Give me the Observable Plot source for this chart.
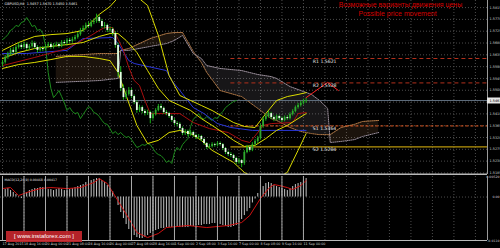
<!DOCTYPE html>
<html><head><meta charset="utf-8">
<script src="https://cdn.jsdelivr.net/npm/d3@7"></script>
<script src="https://cdn.jsdelivr.net/npm/@observablehq/plot@0.6"></script>
<style>
html,body{margin:0;padding:0;background:#000;}
#wrap{position:relative;width:500px;height:248px;overflow:hidden;background:#000;}
#wrap svg{position:absolute;left:0;display:block;}
#wm{position:absolute;left:6px;top:231px;width:76px;height:11px;background:rgba(196,38,44,0.92);color:#fff;font:6px "Liberation Sans",sans-serif;line-height:11px;text-align:center;white-space:nowrap;}
</style></head><body><div id="wrap"><div id="wm">[ www.instaforex.com ]</div></div>
<script>
// ---------- data ----------
const symbolLabel = "GBPUSD,H4  1.5457 1.5470 1.5450 1.5461";
const titleRu = "Возможные варианты движения цены";
const titleEn = "Possible price movement";
const firstOpen = 1.5598;
const closes = [1.5606,1.5625,1.5636,1.5652,1.5644,1.5663,1.5671,1.5663,1.5674,1.5659,
 1.5667,1.5678,1.5663,1.5652,1.5659,1.5655,1.5667,1.5674,1.5663,1.5671,
 1.5674,1.5667,1.5682,1.5678,1.5690,1.5686,1.5693,1.5701,1.5712,1.5728,
 1.5735,1.5747,1.5743,1.5758,1.5762,1.5777,1.5762,1.5743,1.5747,1.5728,
 1.5732,1.5716,1.5671,1.5568,1.5507,1.5472,1.5484,1.5499,1.5476,1.5453,
 1.5423,1.5434,1.5419,1.5411,1.5415,1.5392,1.5408,1.5423,1.5438,1.5431,
 1.5415,1.5411,1.5400,1.5385,1.5373,1.5370,1.5354,1.5335,1.5343,1.5331,
 1.5339,1.5328,1.5320,1.5324,1.5312,1.5297,1.5282,1.5286,1.5293,1.5290,
 1.5297,1.5293,1.5278,1.5263,1.5255,1.5251,1.5240,1.5225,1.5232,1.5221,
 1.5263,1.5282,1.5271,1.5293,1.5305,1.5316,1.5362,1.5389,1.5400,1.5411,
 1.5396,1.5389,1.5400,1.5392,1.5385,1.5396,1.5392,1.5408,1.5419,1.5434,
 1.5442,1.5450,1.5457,1.5461];
const highs = [1.5614,1.5633,1.5645,1.5660,1.5663,1.5670,1.5680,1.5678,1.5684,1.5680,
 1.5674,1.5688,1.5684,1.5670,1.5666,1.5667,1.5674,1.5682,1.5680,1.5678,
 1.5683,1.5681,1.5689,1.5690,1.5697,1.5698,1.5702,1.5709,1.5720,1.5736,
 1.5745,1.5756,1.5760,1.5766,1.5772,1.5790,1.5785,1.5770,1.5758,1.5752,
 1.5742,1.5738,1.5724,1.5680,1.5590,1.5520,1.5496,1.5510,1.5506,1.5482,
 1.5460,1.5443,1.5440,1.5426,1.5424,1.5420,1.5414,1.5430,1.5446,1.5447,
 1.5436,1.5422,1.5416,1.5405,1.5392,1.5380,1.5376,1.5360,1.5350,1.5348,
 1.5346,1.5344,1.5333,1.5331,1.5328,1.5316,1.5301,1.5294,1.5300,1.5298,
 1.5304,1.5303,1.5297,1.5282,1.5268,1.5262,1.5256,1.5245,1.5240,1.5236,
 1.5270,1.5290,1.5288,1.5300,1.5312,1.5324,1.5370,1.5398,1.5410,1.5420,
 1.5416,1.5402,1.5406,1.5405,1.5398,1.5402,1.5403,1.5414,1.5426,1.5440,
 1.5450,1.5458,1.5466,1.5470];
const lows = [1.5590,1.5600,1.5618,1.5630,1.5637,1.5640,1.5657,1.5655,1.5658,1.5650,
 1.5652,1.5661,1.5655,1.5641,1.5645,1.5647,1.5650,1.5661,1.5656,1.5657,
 1.5664,1.5660,1.5662,1.5670,1.5672,1.5679,1.5680,1.5687,1.5695,1.5706,
 1.5720,1.5729,1.5735,1.5738,1.5750,1.5755,1.5755,1.5736,1.5733,1.5720,
 1.5719,1.5706,1.5660,1.5550,1.5495,1.5462,1.5465,1.5478,1.5468,1.5445,
 1.5412,1.5415,1.5410,1.5402,1.5404,1.5372,1.5386,1.5402,1.5418,1.5424,
 1.5408,1.5403,1.5393,1.5378,1.5365,1.5360,1.5346,1.5327,1.5328,1.5324,
 1.5325,1.5320,1.5312,1.5313,1.5304,1.5290,1.5274,1.5276,1.5280,1.5283,
 1.5284,1.5287,1.5270,1.5255,1.5247,1.5243,1.5232,1.5216,1.5218,1.5205,
 1.5214,1.5258,1.5264,1.5266,1.5287,1.5298,1.5310,1.5355,1.5382,1.5394,
 1.5388,1.5380,1.5383,1.5385,1.5377,1.5380,1.5386,1.5387,1.5402,1.5414,
 1.5428,1.5436,1.5444,1.5450];
const chikouShift = 26;

const bbBars  = [0,6,12,18,24,30,36,40,43,46,50,54,58,62,66,70,74,78,82,86,90,94,98,102,106,110,113];
const bbUpper = [1.5652,1.5682,1.5705,1.5712,1.5716,1.5728,1.5789,1.5819,1.5853,1.5865,1.5857,1.5823,1.5709,1.5556,1.5480,1.5461,1.5442,1.5423,1.5400,1.5377,1.5362,1.5358,1.5411,1.5461,1.5476,1.5484,1.5491];
const bbMid   = [1.5621,1.5644,1.5659,1.5667,1.5674,1.5682,1.5705,1.5716,1.5716,1.5690,1.5644,1.5575,1.5507,1.5461,1.5442,1.5423,1.5392,1.5366,1.5339,1.5309,1.5286,1.5290,1.5316,1.5347,1.5366,1.5392,1.5411];
const bbLower = [1.5583,1.5598,1.5606,1.5617,1.5629,1.5629,1.5621,1.5613,1.5568,1.5480,1.5366,1.5297,1.5309,1.5339,1.5347,1.5335,1.5309,1.5271,1.5248,1.5225,1.5187,1.5164,1.5156,1.5164,1.5187,1.5271,1.5335];

const tenkanBars = [0,12,24,33,36,38,41,42,45,47,49,51,53,55,66,71,77,84,89,92,95,97,100,108,110,113];
const tenkan = [1.5594,1.5625,1.5659,1.5709,1.5728,1.5739,1.5739,1.5716,1.5652,1.5587,1.5537,1.5518,1.5461,1.5411,1.5411,1.5377,1.5354,1.5339,1.5309,1.5301,1.5339,1.5366,1.5373,1.5377,1.5411,1.5415];
const kijunBars = [0,9,24,29,30,41,43,47,49,61,63,66,71,75,80,85,93,113];
const kijun = [1.5640,1.5640,1.5652,1.5690,1.5697,1.5701,1.5678,1.5613,1.5602,1.5575,1.5537,1.5499,1.5434,1.5411,1.5373,1.5358,1.5347,1.5347];

const cloudBars = [20,36,43,44,47,55,61,64,67,71,74,76,81,89,95,100,102,107,111,115,118,121,122,126,131,134,140];
const spanA = [1.5629,1.5640,1.5640,1.5652,1.5659,1.5697,1.5716,1.5720,1.5720,1.5648,1.5606,1.5568,1.5499,1.5476,1.5431,1.5392,1.5385,1.5358,1.5343,1.5335,1.5331,1.5331,1.5331,1.5358,1.5370,1.5381,1.5385];
const spanB = [1.5530,1.5537,1.5545,1.5652,1.5652,1.5667,1.5678,1.5690,1.5709,1.5640,1.5621,1.5594,1.5583,1.5575,1.5560,1.5552,1.5545,1.5514,1.5499,1.5484,1.5461,1.5431,1.5301,1.5305,1.5312,1.5324,1.5339];

const levelNames  = ["R1","R2","S1","S2"];
const levelValues = [1.5621,1.5528,1.5364,1.5284];
const levelStartBar = 85;
const levelLabelBar = 115.5;

const moveBars   = [113,121,125];
const movePrices = [1.5472,1.5530,1.5499];

const priceTicks = [1.5815,1.5770,1.5725,1.5680,1.5635,1.5590,1.5545,1.5500,1.5455,1.5410,1.5365,1.5320,1.5275,1.5230,1.5185];
const timeLabelBars = [0,8,16,24,32,40,48,56,64,72,80,88,96,104,112];
const timeLabels = ["17 Aug 2015","18 Aug 16:00","20 Aug 00:00","21 Aug 08:00","24 Aug 16:00","26 Aug 00:00","27 Aug 08:00","28 Aug 16:00","1 Sep 00:00","2 Sep 08:00","3 Sep 16:00","7 Sep 00:00","8 Sep 08:00","9 Sep 16:00","11 Sep 00:00"];

const macdHist = [.00164,.00190,.00215,.00164,.00114,.00063,-.00013,-.00038,.00038,.00114,
 .00164,.00190,.00215,.00215,.00240,.00240,.00215,.00190,.00190,.00164,
 .00190,.00215,.00190,.00164,.00164,.00190,.00215,.00240,.00266,.00291,
 .00316,.00367,.00392,.00417,.00443,.00468,.00468,.00417,.00367,.00291,
 .00215,.00139,.00013,-.00215,-.00392,-.00544,-.00696,-.00822,-.00898,-.00974,
 -.01025,-.01050,-.01050,-.01025,-.00974,-.00923,-.00873,-.00848,-.00822,-.00797,
 -.00797,-.00772,-.00772,-.00772,-.00772,-.00746,-.00772,-.00772,-.00772,-.00772,
 -.00746,-.00746,-.00721,-.00721,-.00721,-.00696,-.00696,-.00696,-.00670,-.00670,
 -.00670,-.00696,-.00721,-.00746,-.00772,-.00772,-.00746,-.00721,-.00645,-.00569,
 -.00468,-.00370,-.00290,-.00150,-.00050,.00089,.00190,.00266,.00342,.00367,
 .00342,.00291,.00266,.00240,.00215,.00190,.00164,.00215,.00266,.00316,
 .00342,.00367,.00417,.00468];
const signalBars = [0,3,6,9,14,18,24,29,34,36,39,42,47,50,54,58,61,69,76,84,89,92,96,99,101,103,106,108,111,113];
const signal = [.00215,.00240,.00038,.00114,.00215,.00240,.00215,.00240,.00367,.00468,.00342,.00013,-.00544,-.00898,-.01025,-.00923,-.00772,-.00721,-.00772,-.00721,-.00645,-.00468,-.00038,.00215,.00316,.00291,.00240,.00190,.00291,.00417];
const macdLabel = "MACD(12,26,9) 0.00468 0.00417";
const macdTickValues = [0.0052, 0, -0.0110];
const macdTickLabels = ["0.00520", "0.00", "-0.0110"];

// ---------- layout ----------
const W = 500, MAIN_H = 176, PR = 13;
const xDomain = [-0.75, 180.5];
const yDomain = [1.5179, 1.5842];
const macdDomain = [-0.0110, 0.0052];
const FONT = "DejaVu Sans";
const gridBars = d3.range(0, 181, 8);
const pxPerBar = (W - PR) / (xDomain[1] - xDomain[0]);
const boxEndBar = xDomain[1] + PR / pxPerBar;

const zip = (xs, ys) => xs.map((x, k) => ({bar: x, v: ys[k]}));
const bars = closes.map((c, i) => ({bar: i, open: i === 0 ? firstOpen : closes[i - 1], close: c, high: highs[i], low: lows[i]}));
const chikou = closes.slice(chikouShift).map((c, k) => ({bar: k, v: c}));
const cloud = cloudBars.map((b, k) => ({bar: b, a: spanA[k], b2: spanB[k]}));
const levels = levelNames.map((n, k) => ({name: n, v: levelValues[k]}));
const lastClose = closes[closes.length - 1];
const axisTicks = priceTicks.filter(t => Math.abs(t - lastClose) > 0.0015);
const grid = {stroke: "#4c4c4c", strokeDasharray: "1,2", strokeWidth: 1};
const cloudLow = d => Math.min(d.a, d.b2);

const main = Plot.plot({
  width: W, height: MAIN_H, marginLeft: 0, marginRight: PR, marginTop: 0, marginBottom: 2,
  style: {background: "#000", color: "#ddd", fontFamily: FONT, overflow: "visible"},
  x: {domain: xDomain, axis: null},
  y: {domain: yDomain, axis: null},
  marks: [
    Plot.ruleY(priceTicks, grid),
    Plot.ruleX(gridBars, grid),
    // cloud: faint tone underneath, dotted hatch on top
    Plot.areaY(cloud, {x: "bar", y1: "a", y2: cloudLow, fill: "#e0a066", fillOpacity: 0.12}),
    Plot.areaY(cloud, {x: "bar", y1: "b2", y2: cloudLow, fill: "#d4ccd8", fillOpacity: 0.11}),
    Plot.areaY(cloud, {x: "bar", y1: "a", y2: cloudLow, fill: "url(#hatchA)", ariaLabel: "cloudA"}),
    Plot.areaY(cloud, {x: "bar", y1: "b2", y2: cloudLow, fill: "url(#hatchB)", ariaLabel: "cloudB"}),
    Plot.line(cloud, {x: "bar", y: "a", stroke: "#b27a48", strokeDasharray: "1,1", strokeWidth: 1}),
    Plot.line(cloud, {x: "bar", y: "b2", stroke: "#9a8e9a", strokeDasharray: "1,1", strokeWidth: 1}),
    Plot.ruleY([lastClose], {stroke: "#5f6e7e", strokeWidth: 1}),
    Plot.ruleY(levels.filter(d => d.name[0] === "R"), {y: "v", x1: levelStartBar, x2: xDomain[1], stroke: "#b2301c", strokeDasharray: "4,3", strokeWidth: 1}),
    Plot.ruleY(levels.filter(d => d.name === "S1"), {y: "v", x1: levelStartBar, x2: xDomain[1], stroke: "#e0561e", strokeDasharray: "3,2", strokeWidth: 1}),
    Plot.ruleY(levels.filter(d => d.name === "S2"), {y: "v", x1: levelStartBar, x2: xDomain[1], stroke: "#b8960b", strokeWidth: 1.2}),
    Plot.line(chikou, {x: "bar", y: "v", stroke: "#1d8c1d", strokeWidth: 1, clip: true}),
    Plot.line(zip(kijunBars, kijun), {x: "bar", y: "v", stroke: "#2a36d8", strokeWidth: 1, clip: true}),
    Plot.line(zip(tenkanBars, tenkan), {x: "bar", y: "v", stroke: "#a80e0e", strokeWidth: 1, clip: true}),
    Plot.line(zip(bbBars, bbUpper), {x: "bar", y: "v", stroke: "#dcdc00", strokeWidth: 1, clip: true}),
    Plot.line(zip(bbBars, bbMid), {x: "bar", y: "v", stroke: "#dcdc00", strokeWidth: 1, clip: true}),
    Plot.line(zip(bbBars, bbLower), {x: "bar", y: "v", stroke: "#dcdc00", strokeWidth: 1, clip: true}),
    Plot.ruleX(bars, {x: "bar", y1: "low", y2: "high", stroke: "#19b019", strokeWidth: 1}),
    Plot.ruleX(bars, {x: "bar", y1: "open", y2: "close", stroke: d => d.close >= d.open ? "#2fa82f" : "#e6ffe6", strokeWidth: 1.8}),
    Plot.line(zip(moveBars, movePrices), {x: "bar", y: "v", stroke: "#ff2424", strokeWidth: 1}),
    Plot.text(levels, {x: levelLabelBar, y: "v", text: d => `${d.name} ${d.v.toFixed(4)}`, textAnchor: "start", lineAnchor: "top", dy: 1, fill: "#e8e8e8", fontSize: 4.6}),
    Plot.text([symbolLabel], {frameAnchor: "top-left", dx: 4, dy: 2, lineAnchor: "top", textAnchor: "start", fill: "#e8e8e8", fontSize: 3.4}),
    Plot.text([titleRu], {frameAnchor: "top-right", dx: -87, dy: 2, lineAnchor: "top", textAnchor: "middle", fill: "#d40000", fontSize: 7, fontFamily: "Liberation Sans"}),
    Plot.text([titleEn], {frameAnchor: "top-right", dx: -90, dy: 10.5, lineAnchor: "top", textAnchor: "middle", fill: "#d40000", fontSize: 7, fontFamily: "Liberation Sans"}),
    Plot.ruleX([xDomain[1]], {stroke: "#9a9a9a", strokeWidth: 1}),
    Plot.ruleY([yDomain[0]], {stroke: "#b8b8b8", strokeWidth: 2}),
    Plot.text(axisTicks, {y: d => d, text: d => d.toFixed(4), frameAnchor: "right", dx: 2, textAnchor: "start", fill: "#cfcfcf", fontSize: 3.4}),
    Plot.ruleY([lastClose], {x1: xDomain[1], x2: boxEndBar, stroke: "#e6e6e6", strokeWidth: 6}),
    Plot.text([lastClose], {y: d => d, text: d => d.toFixed(4), frameAnchor: "right", dx: 2, textAnchor: "start", fill: "#000", fontSize: 3.4})
  ]
});

// dotted hatch patterns for the Ichimoku cloud
const NS = "http://www.w3.org/2000/svg";
const defs = document.createElementNS(NS, "defs");
[["hatchA", "#e8a868"], ["hatchB", "#dcd4e0"]].forEach(([id, col]) => {
  const p = document.createElementNS(NS, "pattern");
  p.setAttribute("id", id);
  p.setAttribute("patternUnits", "userSpaceOnUse");
  p.setAttribute("width", "3");
  p.setAttribute("height", "2");
  const r = document.createElementNS(NS, "rect");
  r.setAttribute("x", "1"); r.setAttribute("y", "0");
  r.setAttribute("width", "1"); r.setAttribute("height", "1");
  r.setAttribute("fill", col);
  p.appendChild(r);
  defs.appendChild(p);
});
main.insertBefore(defs, main.firstChild);
main.querySelectorAll('g[aria-label="cloudA"], g[aria-label="cloudA"] path').forEach(e => e.setAttribute("fill", "url(#hatchA)"));
main.querySelectorAll('g[aria-label="cloudB"], g[aria-label="cloudB"] path').forEach(e => e.setAttribute("fill", "url(#hatchB)"));

const macd = Plot.plot({
  width: W, height: 73, marginLeft: 0, marginRight: PR, marginTop: 1, marginBottom: 8,
  style: {background: "#000", color: "#ddd", fontFamily: FONT, overflow: "visible"},
  x: {domain: xDomain, axis: null},
  y: {domain: macdDomain, axis: null},
  marks: [
    Plot.ruleX(gridBars, grid),
    Plot.ruleY([0], grid),
    Plot.ruleX(macdHist.map((v, i) => ({bar: i, v})), {x: "bar", y1: 0, y2: "v", stroke: "#c4c4c4", strokeWidth: 1}),
    Plot.line(zip(signalBars, signal), {x: "bar", y: "v", stroke: "#d01212", strokeWidth: 1}),
    Plot.text([macdLabel], {frameAnchor: "top-left", dx: 4, dy: 2, lineAnchor: "top", textAnchor: "start", fill: "#e0e0e0", fontSize: 3.2}),
    Plot.text(macdTickValues, {y: d => d, text: (d, i) => macdTickLabels[i], frameAnchor: "right", dx: 12, textAnchor: "end", lineAnchor: "middle", fill: "#cfcfcf", fontSize: 3.2}),
    Plot.text(timeLabelBars.map((b, k) => ({bar: b, t: timeLabels[k]})), {x: "bar", text: "t", frameAnchor: "bottom", dy: 4, textAnchor: "start", fill: "#d0d0d0", fontSize: 3.3}),
    Plot.tickX(timeLabelBars, {x: d => d, frameAnchor: "bottom", stroke: "#aaa"}),
    Plot.ruleX([xDomain[1]], {stroke: "#9a9a9a", strokeWidth: 1}),
    Plot.ruleY([macdDomain[0]], {stroke: "#b8b8b8", strokeWidth: 1})
  ]
});

main.style.top = "0px";
macd.style.top = "175px";
const wrap = document.getElementById("wrap");
wrap.insertBefore(macd, wrap.firstChild);
wrap.insertBefore(main, wrap.firstChild);
</script>
</body></html>
